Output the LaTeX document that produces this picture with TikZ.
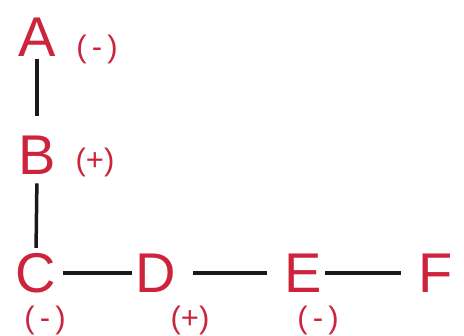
\documentclass[tikz,border=0pt]{standalone}
\usepackage{fontspec}
\setmainfont{Liberation Sans}
\definecolor{ink}{RGB}{205,35,60}
\definecolor{pen}{RGB}{25,25,25}
\begin{document}
\begin{tikzpicture}[x=1pt,y=-1pt,
  letter/.style={text=ink, font=\fontsize{56}{56}\selectfont, inner sep=0pt},
  sign/.style={text=ink, font=\fontsize{31}{31}\selectfont, inner sep=0pt},
  bond/.style={line width=3.5pt, draw=pen}]
\useasboundingbox (0,0) rectangle (464,336);
\fill[white] (0,0) rectangle (464,336);
% atoms
\node[letter] (A) at (37,37) {A};
\node[letter] (B) at (37,155) {B};
\node[letter] (C) at (36,273) {C};
\node[letter] (D) at (156,273) {D};
\node[letter] (E) at (303,273) {E};
\node[letter] (F) at (436,273) {F};
% charges
\node[sign] (sA) at (97,49) {(\,-\,)};
\node[sign] (sB) at (95,162) {(+)};
\node[sign] (sC) at (45,320) {(\,-\,)};
\node[sign] (sD) at (190,320) {(+)};
\node[sign] (sE) at (318,320) {(\,-\,)};
% bonds
\draw[bond, shorten <=3pt, shorten >=20pt] (A.south) -- (B.north);
\draw[bond, shorten <=9pt, shorten >=5pt] (B.south) -- (C.north);
\draw[bond, shorten <=7pt, shorten >=4pt] (C.east) -- (D.west);
\draw[bond, shorten <=17pt, shorten >=17pt] (D.east) -- (E.west);
\draw[bond, shorten <=3pt, shorten >=18pt] (E.east) -- (F.west);
\end{tikzpicture}
\end{document}
